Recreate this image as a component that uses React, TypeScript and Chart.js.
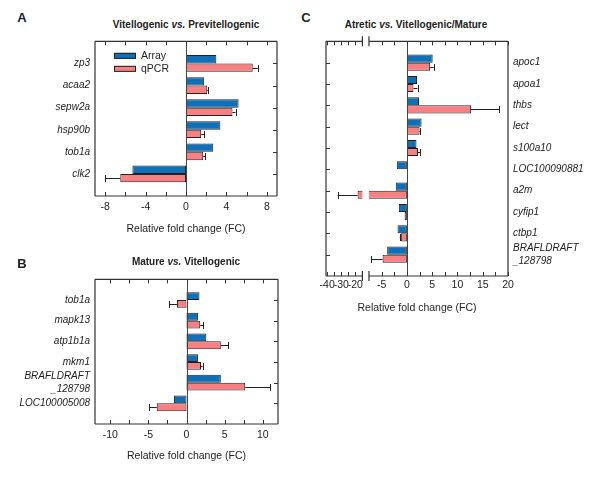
import React, { useEffect, useRef } from 'react';
import { Chart, registerables } from 'chart.js';

Chart.register(...registerables);

const FONT = '"Liberation Sans", Arial, Helvetica, sans-serif';
const BLUE = '#0f6fb8';
const RED = '#f98081';
const INK = '#222222';
const AXIS_TITLE = 'Relative fold change (FC)';
const seriesNames = ['Array', 'qPCR'];

// Panel A: Vitellogenic vs. Previtellogenic
const aGenes: (string | string[])[] = ['zp3', 'acaa2', 'sepw2a', 'hsp90b', 'tob1a', 'clk2'];
const aArray = [3.0, 1.8, 5.2, 3.4, 2.7, -5.3];
const aQpcr = [6.6, 2.1, 4.6, 1.5, 1.7, -6.5];
const aQpcrErr = [0.5, 0.1, 0.3, 0.3, 0.2, 1.5];
const aTicks = [-8, -4, 0, 4, 8];

// Panel B: Mature vs. Vitellogenic
const bGenes: (string | string[])[] = ['tob1a', 'mapk13', 'atp1b1a', 'mkm1', ['BRAFLDRAFT', '_128798'], 'LOC100005008'];
const bArray = [1.7, 1.5, 2.6, 1.5, 4.5, -1.65];
const bQpcr = [-1.25, 1.8, 4.5, 1.9, 7.7, -3.9];
const bQpcrErr = [1.05, 0.4, 1.0, 0.2, 3.3, 1.0];
const bTicks = [-10, -5, 0, 5, 10];

// Panel C: Atretic vs. Vitellogenic/Mature
const cGenes: (string | string[])[] = ['apoc1', 'apoa1', 'thbs', 'lect', 's100a10', 'LOC100090881', 'a2m', 'cyfip1', 'ctbp1', ['BRAFLDRAFT', '_128798']];
const cArray = [5.1, 2.0, 2.4, 2.9, 1.9, -2.0, -2.2, -1.6, -1.85, -3.9];
const cQpcr = [4.6, 1.3, 12.7, 2.5, 2.2, 0.15, -18.4, -0.45, -1.2, -4.8];
const cQpcrErr = [0.7, 0.8, 5.6, 0.1, 0.4, 0, 14.1, 0, 0.2, 2.3];
const cTicks = [-40, -30, -20, -5, 0, 5, 10, 15, 20];

// broken axis for panel C
const C_BREAK_LO = -15;
const C_BREAK_HI = -7.5;
const C_GAP = 1.3;
const C_K = 0.279;
function cTransform(v: number): number {
  if (v >= C_BREAK_HI) return v;
  if (v <= C_BREAK_LO) return C_BREAK_HI - C_GAP + (v - C_BREAK_LO) * C_K;
  const f = (v - C_BREAK_LO) / (C_BREAK_HI - C_BREAK_LO);
  return C_BREAK_HI - C_GAP + f * C_GAP;
}

function range(a: number, b: number, s: number): number[] {
  const out: number[] = [];
  for (let v = a; v <= b + 1e-9; v += s) out.push(Math.round(v * 1000) / 1000);
  return out;
}

type Cfg = {
  genes: (string | string[])[];
  arr: number[];
  q: number[];
  err: number[];
  ticks: number[];
  minor: number[];
  min: number;
  max: number;
  transform?: (v: number) => number;
  labelSide: 'left' | 'right';
  legend?: boolean;
  brk?: [number, number];
  box: { left: number; top: number; width: number; height: number };
  pad: { left: number; right: number; top: number };
  yWidth: number;
  xHeight: number;
  tickPad: number;
};

function Panel({ cfg }: { cfg: Cfg }) {
  const ref = useRef<HTMLCanvasElement | null>(null);
  useEffect(() => {
    if (!ref.current) return;
    const t = cfg.transform ?? ((v: number) => v);
    const labels = ['', ...cfg.genes, ''];
    const padData = (a: number[]) => [null, ...a.map(t), null];

    const framePlugin = {
      id: 'frame',
      afterDatasetsDraw(chart: any) {
        const { ctx, chartArea: ca, scales } = chart;
        const x = scales.x;
        const y = scales.y;
        ctx.save();
        let xa = 0;
        let xb = 0;
        if (cfg.brk) {
          xa = x.getPixelForValue(t(cfg.brk[0]));
          xb = x.getPixelForValue(t(cfg.brk[1]));
          ctx.fillStyle = '#ffffff';
          ctx.fillRect(xa, ca.top + 1, xb - xa, ca.bottom - ca.top - 2);
        }
        // zero line
        const x0 = Math.round(x.getPixelForValue(0)) + 0.5;
        ctx.strokeStyle = '#444';
        ctx.lineWidth = 1;
        ctx.beginPath();
        ctx.moveTo(x0, ca.top);
        ctx.lineTo(x0, ca.bottom);
        ctx.stroke();
        // error bars on qPCR
        const meta = chart.getDatasetMeta(1);
        ctx.strokeStyle = INK;
        ctx.lineWidth = 1;
        cfg.q.forEach((v, i) => {
          const e = cfg.err[i];
          if (!e) return;
          const el = meta.data[i + 1];
          if (!el) return;
          const end = v + (v >= 0 ? e : -e);
          const p1 = x.getPixelForValue(t(v));
          const p2 = x.getPixelForValue(t(end));
          const py = Math.round(el.y) + 0.5;
          ctx.beginPath();
          ctx.moveTo(p1, py);
          ctx.lineTo(p2, py);
          ctx.moveTo(Math.round(p2) + 0.5, py - 3.5);
          ctx.lineTo(Math.round(p2) + 0.5, py + 3.5);
          ctx.stroke();
        });
        // frame
        ctx.strokeStyle = '#333';
        ctx.lineWidth = 1.2;
        ctx.beginPath();
        ctx.moveTo(ca.left, ca.top);
        ctx.lineTo(ca.left, ca.bottom);
        ctx.moveTo(ca.right, ca.top);
        ctx.lineTo(ca.right, ca.bottom);
        if (cfg.brk) {
          for (const yy of [ca.top, ca.bottom]) {
            ctx.moveTo(ca.left, yy);
            ctx.lineTo(xa, yy);
            ctx.moveTo(xb, yy);
            ctx.lineTo(ca.right, yy);
          }
        } else {
          ctx.moveTo(ca.left, ca.top);
          ctx.lineTo(ca.right, ca.top);
          ctx.moveTo(ca.left, ca.bottom);
          ctx.lineTo(ca.right, ca.bottom);
        }
        ctx.stroke();
        // minor/major ticks top & bottom (inward)
        ctx.lineWidth = 1;
        ctx.beginPath();
        cfg.minor.forEach((m) => {
          const px = Math.round(x.getPixelForValue(t(m))) + 0.5;
          ctx.moveTo(px, ca.bottom);
          ctx.lineTo(px, ca.bottom - 4);
          ctx.moveTo(px, ca.top);
          ctx.lineTo(px, ca.top + 4);
        });
        // category ticks on side opposite labels
        const sx = cfg.labelSide === 'left' ? ca.right : ca.left;
        const dir = cfg.labelSide === 'left' ? -1 : 1;
        for (let i = 1; i <= cfg.genes.length; i++) {
          const py = Math.round(y.getPixelForValue(i)) + 0.5;
          ctx.moveTo(sx, py);
          ctx.lineTo(sx + dir * 4, py);
        }
        ctx.stroke();
        // break marks
        if (cfg.brk) {
          ctx.lineWidth = 1.2;
          ctx.beginPath();
          for (const bx of [xa, xb]) {
            for (const yy of [ca.top, ca.bottom]) {
              ctx.moveTo(bx, yy - 5);
              ctx.lineTo(bx, yy + 5);
            }
          }
          ctx.stroke();
        }
        // legend
        if (cfg.legend) {
          const lx = ca.left + 19;
          const colors = [BLUE, RED];
          ctx.font = `10.5px ${FONT}`;
          ctx.textBaseline = 'middle';
          ctx.textAlign = 'left';
          seriesNames.forEach((name, k) => {
            const cy = ca.top + 14.5 + k * 13;
            ctx.fillStyle = colors[k];
            ctx.fillRect(lx, cy - 3, 22, 6);
            ctx.strokeStyle = INK;
            ctx.lineWidth = 1;
            ctx.strokeRect(lx + 0.5, cy - 2.5, 21, 5);
            ctx.fillStyle = INK;
            ctx.fillText(name, lx + 27, cy);
          });
        }
        ctx.restore();
      },
    };

    const barBase = {
      borderColor: INK,
      borderWidth: 1,
      borderSkipped: false,
      categoryPercentage: 0.76,
      barPercentage: 1,
    };

    const chart = new Chart(ref.current, {
      type: 'bar',
      data: {
        labels,
        datasets: [
          { ...barBase, label: seriesNames[0], data: padData(cfg.arr), backgroundColor: BLUE },
          { ...barBase, label: seriesNames[1], data: padData(cfg.q), backgroundColor: RED },
        ],
      } as any,
      options: {
        indexAxis: 'y',
        animation: false,
        responsive: false,
        maintainAspectRatio: false,
        layout: { padding: { left: cfg.pad.left, right: cfg.pad.right, top: cfg.pad.top, bottom: 0 } },
        plugins: { legend: { display: false }, tooltip: { enabled: false }, title: { display: false } },
        scales: {
          x: {
            type: 'linear',
            min: cfg.min,
            max: cfg.max,
            grid: { display: false, drawTicks: false },
            border: { display: false },
            afterBuildTicks: (s: any) => {
              s.ticks = cfg.ticks.map((v) => ({ value: t(v) }));
            },
            afterFit: (s: any) => {
              s.height = cfg.xHeight;
            },
            ticks: {
              autoSkip: false,
              maxRotation: 0,
              padding: cfg.tickPad,
              color: INK,
              font: { family: FONT, size: 10.5 },
              callback: (_v: any, i: number) => String(cfg.ticks[i]),
            },
            title: {
              display: true,
              text: AXIS_TITLE,
              color: INK,
              padding: 0,
              font: { family: FONT, size: 10.5 },
            },
          },
          y: {
            type: 'category',
            position: cfg.labelSide,
            offset: false,
            grid: { display: false, drawTicks: false },
            border: { display: false },
            afterFit: (s: any) => {
              s.width = cfg.yWidth;
            },
            ticks: {
              autoSkip: false,
              padding: 5,
              color: INK,
              font: { family: FONT, size: 10, style: 'italic', lineHeight: 1.27 },
            },
          },
        },
      } as any,
      plugins: [framePlugin],
    });
    return () => chart.destroy();
  }, [cfg]);
  const b = cfg.box;
  return (
    <canvas
      ref={ref}
      width={b.width}
      height={b.height}
      style={{ position: 'absolute', left: b.left, top: b.top, width: b.width, height: b.height, display: 'block' }}
    />
  );
}

const cfgA: Cfg = {
  genes: aGenes, arr: aArray, q: aQpcr, err: aQpcrErr, ticks: aTicks,
  minor: range(-8, 8, 2), min: -9, max: 9, labelSide: 'left', legend: true,
  box: { left: 0, top: 30, width: 300, height: 205 },
  pad: { left: 0, right: 23, top: 8 }, yWidth: 95, xHeight: 39, tickPad: 5,
};
const cfgB: Cfg = {
  genes: bGenes, arr: bArray, q: bQpcr, err: bQpcrErr, ticks: bTicks,
  minor: range(-10, 10, 2.5), min: -12, max: 12, labelSide: 'left',
  box: { left: 0, top: 268, width: 300, height: 194 },
  pad: { left: 0, right: 22, top: 8 }, yWidth: 95, xHeight: 38, tickPad: 5,
};
const cfgC: Cfg = {
  genes: cGenes, arr: cArray, q: cQpcr, err: cQpcrErr, ticks: cTicks,
  minor: [...range(-40, -20, 5), ...range(-5, 20, 2.5)], min: -16, max: 20,
  transform: cTransform, labelSide: 'right', brk: [C_BREAK_LO, C_BREAK_HI],
  box: { left: 300, top: 30, width: 300, height: 284 },
  pad: { left: 26, right: 0, top: 8 }, yWidth: 92, xHeight: 38, tickPad: 3,
};

const textAt = (x: number, y: number, extra: React.CSSProperties = {}): React.CSSProperties => ({
  position: 'absolute',
  left: x,
  top: y,
  transform: 'translate(-50%, -50%)',
  whiteSpace: 'nowrap',
  fontFamily: FONT,
  color: INK,
  lineHeight: 1,
  ...extra,
});

export default function App() {
  return (
    <div style={{ position: 'absolute', left: 0, top: 0, width: 600, height: 477, background: '#fff', overflow: 'hidden' }}>
      <Panel cfg={cfgA} />
      <Panel cfg={cfgB} />
      <Panel cfg={cfgC} />
      <div style={textAt(22, 17, { fontWeight: 'bold', fontSize: 13 })}>A</div>
      <div style={textAt(22, 263, { fontWeight: 'bold', fontSize: 13 })}>B</div>
      <div style={textAt(306, 17, { fontWeight: 'bold', fontSize: 13 })}>C</div>
      <div style={textAt(186, 25, { fontWeight: 'bold', fontSize: 10 })}>
        Vitellogenic <i>vs.</i> Previtellogenic
      </div>
      <div style={textAt(186, 262, { fontWeight: 'bold', fontSize: 10 })}>
        Mature <i>vs.</i> Vitellogenic
      </div>
      <div style={textAt(416, 25, { fontWeight: 'bold', fontSize: 10 })}>
        Atretic <i>vs.</i> Vitellogenic/Mature
      </div>
    </div>
  );
}
